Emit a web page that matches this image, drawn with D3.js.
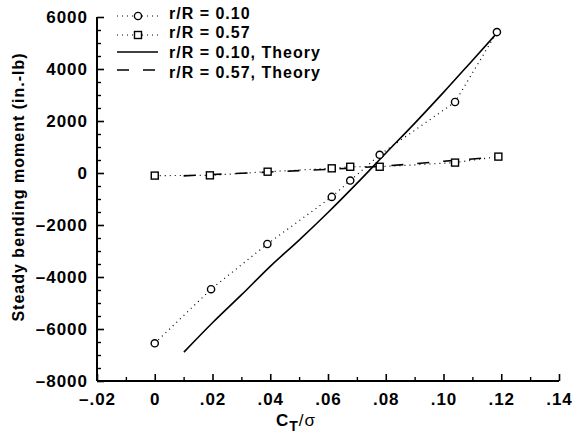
<!DOCTYPE html>
<html>
<head>
<meta charset="utf-8">
<script src="https://cdn.jsdelivr.net/npm/d3@7"></script>
<style>
body { margin: 0; background: white; }
text { font-family: "Liberation Sans", Arial, sans-serif; font-weight: bold; fill: black; letter-spacing: 1px; }
</style>
</head>
<body>
<div id="container"></div>
<script>
///data
const xTicks = [-0.02, 0, 0.02, 0.04, 0.06, 0.08, 0.10, 0.12, 0.14];
const xTickLabels = ["\u2013.02", "0", ".02", ".04", ".06", ".08", ".10", ".12", ".14"];
const yTicks = [-8000, -6000, -4000, -2000, 0, 2000, 4000, 6000];
const yTickLabels = ["\u20138000", "\u20136000", "\u20134000", "\u20132000", "0", "2000", "4000", "6000"];

// measured, r/R = 0.10 (circles)
const x10 = [0, 0.0195, 0.039, 0.0613, 0.0677, 0.0779, 0.104, 0.1185];
const y10 = [-6550, -4470, -2730, -920, -290, 700, 2730, 5420];
// measured, r/R = 0.57 (squares)
const x57 = [0, 0.0191, 0.0391, 0.0613, 0.0677, 0.0779, 0.104, 0.119];
const y57 = [-100, -90, 50, 180, 240, 240, 400, 630];
// theory r/R = 0.10
const xT10 = [0.0101, 0.02, 0.03, 0.04, 0.05, 0.06, 0.07, 0.08, 0.09, 0.10, 0.11, 0.1185];
const yT10 = [-6890, -5760, -4690, -3590, -2580, -1520, -400, 760, 1910, 3100, 4330, 5380];
// theory r/R = 0.57
const xT57 = [0.01, 0.02, 0.03, 0.04, 0.05, 0.06, 0.07, 0.08, 0.09, 0.10, 0.11, 0.12];
const yT57 = [-110, -60, -10, 40, 90, 140, 200, 270, 360, 450, 540, 630];

const legendLabels = ["r/R = 0.10", "r/R = 0.57", "r/R = 0.10, Theory", "r/R = 0.57, Theory"];

///vars
let w = 582, h = 437;
const zip = (xs, ys) => xs.map((x, i) => [x, ys[i]]);

let svg = d3.select("#container").append("svg").attr("width", w).attr("height", h);

const x = d3.scaleLinear().domain([-0.02, 0.14]).range([97, 559]);
const y = d3.scaleLinear().domain([-8000, 6000]).range([381, 17]);

///axes
const xAxis = d3.axisBottom(x).tickValues(xTicks).tickFormat((d, i) => xTickLabels[i]).tickSize(-7).tickPadding(12);
const xMinor = d3.axisBottom(x).tickValues(d3.range(-0.01, 0.14, 0.02)).tickFormat("").tickSize(-4);
const yAxis = d3.axisLeft(y).tickValues(yTicks).tickFormat((d, i) => yTickLabels[i]).tickSize(-7).tickPadding(9);
const yMinor = d3.axisLeft(y).tickValues(d3.range(-7500, 6000, 500).filter(v => v % 2000 !== 0)).tickFormat("").tickSize(-4);

svg.append("g").attr("transform", "translate(0,381)").call(xMinor).call(g => g.select(".domain").remove()).selectAll("line").attr("stroke-width", 1.4);
svg.append("g").attr("transform", "translate(97,0)").call(yMinor).call(g => g.select(".domain").remove()).selectAll("line").attr("stroke-width", 1.4);
svg.append("g").attr("transform", "translate(0,381)").call(xAxis).call(g => {
  g.select(".domain").attr("d", "M97,0H559").attr("stroke-width", 2);
  g.selectAll(".tick line").attr("stroke-width", 1.6);
  g.selectAll("text").style("font-size", "17px");
});
svg.append("g").attr("transform", "translate(97,0)").call(yAxis).call(g => {
  g.select(".domain").attr("d", "M0,17V381").attr("stroke-width", 2);
  g.selectAll(".tick line").attr("stroke-width", 1.6);
  g.selectAll("text").style("font-size", "17px").attr("dy", "0.35em");
});
svg.selectAll("g").attr("font-family", null).attr("font-size", null);

///axis titles
const xt = svg.append("text").attr("x", 296).attr("y", 426).attr("text-anchor", "middle").style("font-size", "17px");
xt.append("tspan").text("C");
xt.append("tspan").text("T").attr("dy", 5).style("font-size", "14px");
xt.append("tspan").text("/\u03c3").attr("dy", -5).style("font-weight", "normal");

svg.append("text").attr("transform", "translate(24,187) rotate(-90)").attr("text-anchor", "middle")
  .style("font-size", "16px").text("Steady bending moment (in.-lb)");

///lines
const line = d3.line().x(d => x(d[0])).y(d => y(d[1]));

svg.append("path").datum(zip(x10, y10)).attr("d", line).attr("fill", "none")
  .attr("stroke", "black").attr("stroke-width", 1.2).attr("stroke-dasharray", "1,4");
svg.append("path").datum(zip(x57, y57)).attr("d", line).attr("fill", "none")
  .attr("stroke", "black").attr("stroke-width", 1.2).attr("stroke-dasharray", "1,4");
svg.append("path").datum(zip(xT10, yT10)).attr("d", line.curve(d3.curveMonotoneX)).attr("fill", "none")
  .attr("stroke", "black").attr("stroke-width", 1.6);
svg.append("path").datum(zip(xT57, yT57)).attr("d", line.curve(d3.curveMonotoneX)).attr("fill", "none")
  .attr("stroke", "black").attr("stroke-width", 1.6).attr("stroke-dasharray", "12,14");

///markers
svg.append("g").selectAll("circle").data(zip(x10, y10)).join("circle")
  .attr("cx", d => x(d[0])).attr("cy", d => y(d[1])).attr("r", 3.6)
  .attr("fill", "white").attr("stroke", "black").attr("stroke-width", 1.4);
svg.append("g").selectAll("rect").data(zip(x57, y57)).join("rect")
  .attr("x", d => x(d[0]) - 3.5).attr("y", d => y(d[1]) - 3.5).attr("width", 7).attr("height", 7)
  .attr("fill", "white").attr("stroke", "black").attr("stroke-width", 1.4);

///legend
const legend = svg.append("g").attr("id", "legend");
const rowY = [16, 35, 52, 70];
const textY = [19, 38, 58, 78];
legendLabels.forEach((lab, i) => {
  const l = legend.append("line").attr("x1", 117).attr("x2", 158).attr("y1", rowY[i]).attr("y2", rowY[i])
    .attr("stroke", "black").attr("stroke-width", i < 2 ? 1.2 : 1.6);
  if (i < 2) l.attr("stroke-dasharray", "1,4");
  if (i === 3) l.attr("stroke-dasharray", "12,14");
  if (i === 0) legend.append("circle").attr("cx", 138).attr("cy", rowY[i]).attr("r", 3.6)
    .attr("fill", "white").attr("stroke", "black").attr("stroke-width", 1.4);
  if (i === 1) legend.append("rect").attr("x", 134.5).attr("y", rowY[i] - 3.5).attr("width", 7).attr("height", 7)
    .attr("fill", "white").attr("stroke", "black").attr("stroke-width", 1.4);
  legend.append("text").attr("x", 169).attr("y", textY[i]).style("font-size", "16px").text(lab);
});
</script>
</body>
</html>
